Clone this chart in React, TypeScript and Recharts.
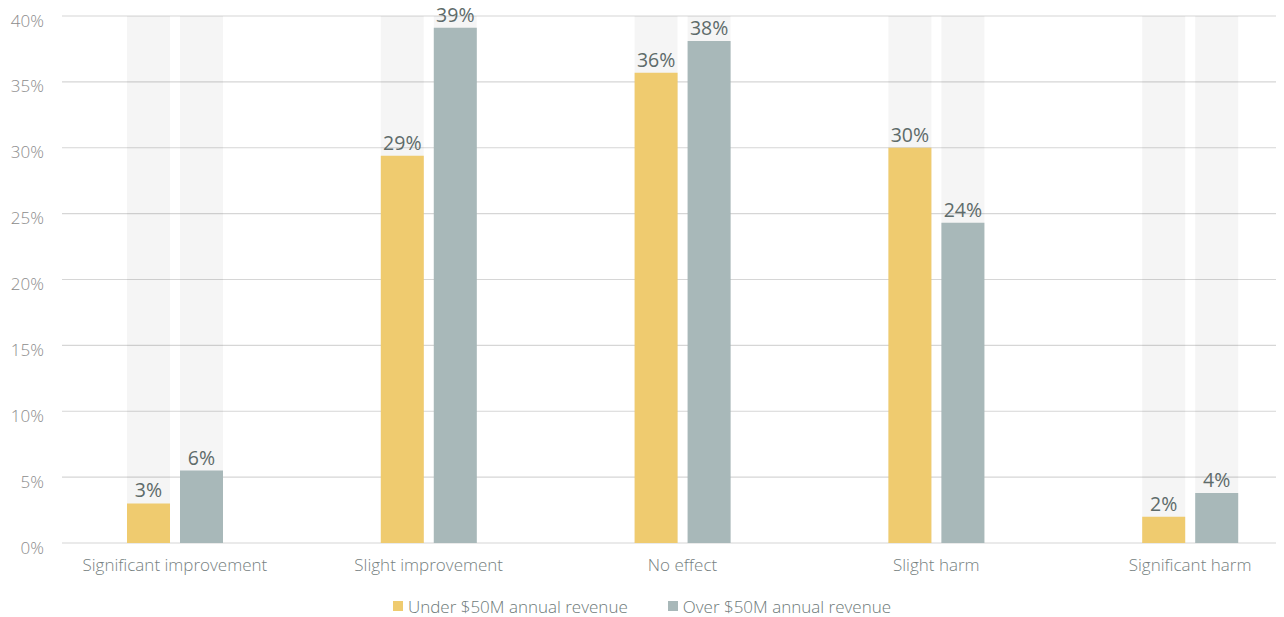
import { Bar, BarChart, CartesianGrid, LabelList, Legend, XAxis, YAxis } from "recharts";

const categories = ["Significant improvement", "Slight improvement", "No effect", "Slight harm", "Significant harm"];
const underRevenue = [3.0, 29.4, 35.7, 30.0, 2.0];
const overRevenue = [5.5, 39.1, 38.1, 24.3, 3.8];
const yTicks = [0, 5, 10, 15, 20, 25, 30, 35, 40];
const seriesNames = ["Under $50M annual revenue", "Over $50M annual revenue"];
const seriesColors = ["#efcb6f", "#a8b8b9"];

const data = categories.map((name, i) => ({
  name,
  under: underRevenue[i],
  over: overRevenue[i],
}));

const FONT = "'Open Sans', sans-serif";

const YTick = ({ x, y, payload }: any) => (
  <text x={x} y={y + 6} textAnchor="end" dominantBaseline="middle" fill="#8c8c8c" fontSize={17} fontFamily={FONT} fontWeight={300}>
    {payload.value}%
  </text>
);

const XTick = ({ x, y, payload }: any) => (
  <text x={x} y={y + 15} textAnchor="middle" dominantBaseline="middle" fill="#76817f" fontSize={17} fontFamily={FONT} fontWeight={300}>
    {payload.value}
  </text>
);

const LegendBox = () => (
  <div
    style={{
      height: 34,
      display: "flex",
      justifyContent: "center",
      alignItems: "center",
      gap: 40,
      fontFamily: FONT,
      fontSize: 17,
      fontWeight: 300,
      color: "#6e7a79",
      paddingTop: 12,
      boxSizing: "border-box",
    }}
  >
    {seriesNames.map((n, i) => (
      <div key={n} style={{ display: "flex", alignItems: "center", gap: 5 }}>
        <span style={{ width: 10, height: 10, background: seriesColors[i], display: "inline-block" }} />
        <span>{n}</span>
      </div>
    ))}
  </div>
);

const pct = (v: any) => `${Math.round(Number(v))}%`;

export default function App() {
  return (
    <div style={{ margin: "-8px 0 0 -8px", width: 1284, height: 617 }}>
      <BarChart
        width={1284}
        height={617}
        data={data}
        margin={{ top: 16, right: 0, left: 0, bottom: 0 }}
        barSize={43}
        barGap={10}
      >
        <CartesianGrid vertical={false} stroke="#d6d6d6" strokeWidth={1.2} />
        <XAxis
          dataKey="name"
          axisLine={false}
          tickLine={false}
          tick={<XTick />}
          height={40}
          interval={0}
          padding={{ left: -14, right: -33 }}
        />
        <YAxis
          domain={[0, 40]}
          ticks={yTicks}
          axisLine={false}
          tickLine={false}
          tick={<YTick />}
          width={62}
          tickSize={0}
          tickMargin={18}
        />
        <Legend verticalAlign="bottom" height={34} content={<LegendBox />} wrapperStyle={{ height: 34 }} />
        <Bar
          dataKey="under"
          name={seriesNames[0]}
          fill={seriesColors[0]}
          background={{ fill: "#000", fillOpacity: 0.04 }}
          isAnimationActive={false}
        >
          <LabelList dataKey="under" position="top" offset={6} formatter={pct} fill="#5e6b6a" fontSize={19.5} fontFamily={FONT} fontWeight={400} />
        </Bar>
        <Bar
          dataKey="over"
          name={seriesNames[1]}
          fill={seriesColors[1]}
          background={{ fill: "#000", fillOpacity: 0.04 }}
          isAnimationActive={false}
        >
          <LabelList dataKey="over" position="top" offset={6} formatter={pct} fill="#5e6b6a" fontSize={19.5} fontFamily={FONT} fontWeight={400} />
        </Bar>
      </BarChart>
    </div>
  );
}
